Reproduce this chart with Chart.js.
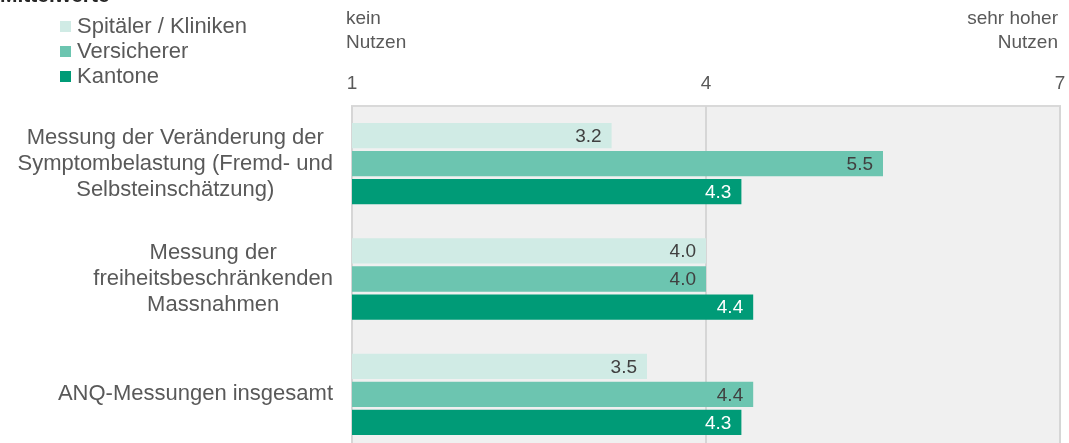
<!DOCTYPE html>
<html>
<head>
<meta charset="utf-8">
<script src="https://cdn.jsdelivr.net/npm/chart.js@4"></script>
<style>
    html, body { margin: 0; padding: 0; background: #ffffff; overflow: hidden; }
    #wrap { width: 1069px; height: 452px; }
</style>
</head>
<body>
<div id="wrap"><canvas id="nutzenChart" width="1069" height="452"></canvas></div>
<script>
// Kategorien (mehrzeilig) und Mittelwerte je Gruppe
const categories = [
    ['Messung der Veränderung der', 'Symptombelastung (Fremd- und', 'Selbsteinschätzung)'],
    ['Messung der', 'freiheitsbeschränkenden', 'Massnahmen'],
    ['ANQ-Messungen insgesamt']
];
const seriesNames = ['Spitäler / Kliniken', 'Versicherer', 'Kantone'];
const spitaeler = [3.2, 4.0, 3.5];
const versicherer = [5.5, 4.0, 4.4];
const kantone = [4.3, 4.4, 4.3];
const tickValues = [1, 4, 7];

const colors = ['#d0ebe5', '#6cc5b0', '#009b77'];
const labelColors = ['#404040', '#404040', '#ffffff'];
const FONT = '"Liberation Sans", Arial, sans-serif';

// grauer Hintergrund + Rahmen der Zeichenfläche
const plotBackground = {
    id: 'plotBackground',
    beforeDraw(chart) {
        const { ctx, chartArea: a } = chart;
        ctx.save();
        ctx.fillStyle = '#f0f0f0';
        ctx.fillRect(a.left, a.top, a.right - a.left, a.bottom - a.top);
        ctx.strokeStyle = '#d9d9d9';
        ctx.lineWidth = 2;
        ctx.strokeRect(a.left, a.top, a.right - a.left, a.bottom - a.top);
        ctx.restore();
    }
};

// Titel, Legende, Achsenbeschriftung, Kategorien und Werte
const annotations = {
    id: 'annotations',
    afterDraw(chart) {
        const { ctx } = chart;
        const x = chart.scales.x, y = chart.scales.y;
        ctx.save();

        // Titel (oben abgeschnitten)
        ctx.font = 'bold 21px ' + FONT;
        ctx.fillStyle = '#262626';
        ctx.textAlign = 'left';
        ctx.textBaseline = 'alphabetic';
        ctx.fillText('Mittelwerte', 0, 2);

        // Legende
        ctx.font = '22px ' + FONT;
        ctx.textBaseline = 'middle';
        seriesNames.forEach((name, i) => {
            const ly = 26 + i * 25;
            ctx.fillStyle = colors[i];
            ctx.fillRect(60, ly - 5, 11, 11);
            ctx.fillStyle = '#595959';
            ctx.fillText(name, 77, ly + 1);
        });

        // Pole der Skala
        ctx.font = '19px ' + FONT;
        ctx.fillStyle = '#595959';
        ctx.textAlign = 'left';
        ctx.fillText('kein', x.getPixelForValue(1) - 6, 19);
        ctx.fillText('Nutzen', x.getPixelForValue(1) - 6, 43);
        ctx.textAlign = 'right';
        ctx.fillText('sehr hoher', x.getPixelForValue(7) - 2, 19);
        ctx.fillText('Nutzen', x.getPixelForValue(7) - 2, 43);

        // Kategorien: Block rechtsbündig, Zeilen zentriert
        ctx.font = '22px ' + FONT;
        ctx.textAlign = 'center';
        categories.forEach((lines, i) => {
            const cy = y.getPixelForValue(i);
            const w = Math.max(...lines.map(l => ctx.measureText(l).width));
            const cx = 333 - w / 2;
            const lh = 26;
            lines.forEach((l, j) => {
                ctx.fillText(l, cx, cy + (j - (lines.length - 1) / 2) * lh);
            });
        });

        // Werte am Balkenende
        ctx.font = '19px ' + FONT;
        ctx.textAlign = 'right';
        chart.data.datasets.forEach((ds, di) => {
            chart.getDatasetMeta(di).data.forEach((bar, i) => {
                ctx.fillStyle = labelColors[di];
                ctx.fillText(ds.data[i].toFixed(1), bar.x - 10, bar.y + 1);
            });
        });
        ctx.restore();
    }
};

new Chart(document.getElementById('nutzenChart'), {
    type: 'bar',
    data: {
        labels: categories.map(c => c.join(' ')),
        datasets: [
            { label: seriesNames[0], data: spitaeler, backgroundColor: colors[0] },
            { label: seriesNames[1], data: versicherer, backgroundColor: colors[1] },
            { label: seriesNames[2], data: kantone, backgroundColor: colors[2] }
        ]
    },
    options: {
        indexAxis: 'y',
        responsive: false,
        animation: false,
        layout: { padding: { left: 352, right: 9, top: 70, bottom: 0 } },
        datasets: { bar: { categoryPercentage: 0.73, barPercentage: 0.9, borderWidth: 0 } },
        plugins: { legend: { display: false }, tooltip: { enabled: false } },
        scales: {
            x: {
                position: 'top',
                min: 1,
                max: 7,
                afterBuildTicks: s => { s.ticks = tickValues.map(v => ({ value: v })); },
                afterFit: s => { s.height = 36; s.paddingLeft = 0; s.paddingRight = 0; },
                ticks: {
                    color: '#595959',
                    font: { family: FONT, size: 19 },
                    padding: 11
                },
                grid: { color: '#d6d6d6', lineWidth: 2, drawTicks: false },
                border: { display: false }
            },
            y: {
                display: false
            }
        }
    },
    plugins: [plotBackground, annotations]
});
</script>
</body>
</html>
